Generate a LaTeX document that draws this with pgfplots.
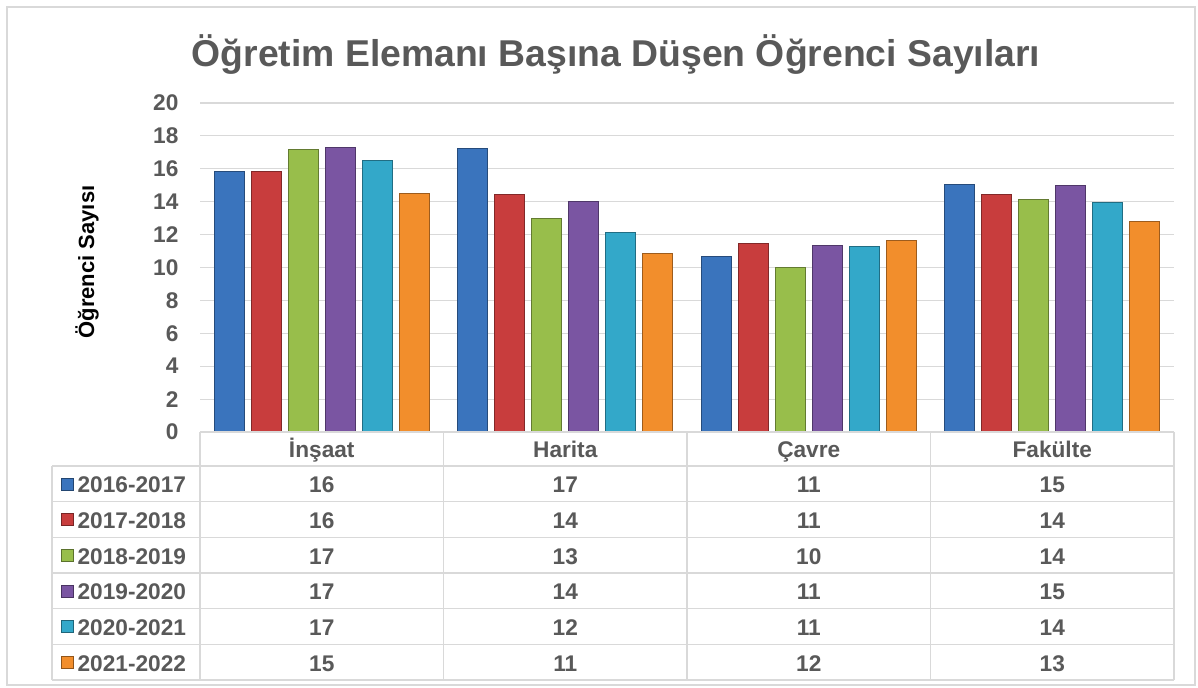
\documentclass[border=0pt]{standalone}
\usepackage{pgfplots}
\pgfplotsset{compat=1.18}
\usepackage{pgfplotstable}
\usepackage{fontspec}
\setmainfont{Liberation Sans}
\definecolor{txt}{HTML}{595959}
\definecolor{gridc}{HTML}{D9D9D9}
\definecolor{c1}{HTML}{3A74BD}
\definecolor{c2}{HTML}{C83D3D}
\definecolor{c3}{HTML}{98BE4B}
\definecolor{c4}{HTML}{7A55A2}
\definecolor{c5}{HTML}{33A8C9}
\definecolor{c6}{HTML}{F28E2C}

% rows: Insaat, Harita, Cavre, Fakulte ; columns: academic years
\pgfplotstableread{
x s1 s2 s3 s4 s5 s6
0 15.82 15.86 17.16 17.32 16.53 14.52
1 17.24 14.46 13.00 14.00 12.15 10.87
2 10.67 11.48  9.98 11.36 11.26 11.66
3 15.07 14.45 14.16 14.97 13.96 12.80
}\datatable

\pgfplotsset{
  barstyle/.style={draw=#1!65!black, fill=#1, line width=0.6pt}
}

\begin{document}
\begin{tikzpicture}
\begin{scope}[x=0.75pt,y=-0.75pt]
  \path (0,0) rectangle (1198,688);
  \draw[gridc, line width=0.9pt] (7,7) rectangle (1195,685);
  \node[txt, font=\bfseries\fontsize{28}{32}\selectfont, anchor=base, inner sep=0pt] at (616,67)
    {Öğretim Elemanı Başına Düşen Öğrenci Sayıları};
  \node[black, font=\bfseries\fontsize{16.5}{19}\selectfont, rotate=90, anchor=base, inner sep=0pt] at (94,262)
    {Öğrenci Sayısı};
\end{scope}

\begin{axis}[
  at={(150pt,-324pt)}, anchor=south west,
  scale only axis,
  width=730.5pt, height=246.75pt,
  ybar=5.25pt, bar width=22.5pt,
  ymin=0, ymax=20, xmin=-0.5, xmax=3.5,
  ytick={0,2,...,20}, xtick=\empty,
  axis line style={draw=none},
  tick style={draw=none},
  ymajorgrids,
  major grid style={draw=gridc, line width=0.9pt},
  yticklabel style={font=\bfseries\fontsize{17}{20}\selectfont, text=txt, inner sep=0pt, xshift=-16pt},
  /pgf/number format/assume math mode=true,
  clip=false
]
\addplot[barstyle=c1] table[x=x,y=s1]{\datatable};
\addplot[barstyle=c2] table[x=x,y=s2]{\datatable};
\addplot[barstyle=c3] table[x=x,y=s3]{\datatable};
\addplot[barstyle=c4] table[x=x,y=s4]{\datatable};
\addplot[barstyle=c5] table[x=x,y=s5]{\datatable};
\addplot[barstyle=c6] table[x=x,y=s6]{\datatable};
\end{axis}

\begin{scope}[x=0.75pt,y=-0.75pt, line width=0.9pt]
  \draw[gridc] (200,432) -- (1174,432);
  \foreach \r in {0,...,6} {
    \draw[gridc] (52,466+35.67*\r) -- (1174,466+35.67*\r);
  }
  \draw[gridc] (52,466) -- (52,680);
  \foreach \xx in {200,443.5,687,930.5,1174} {
    \draw[gridc] (\xx,432) -- (\xx,680);
  }
  \foreach \n [count=\i from 0] in {İnşaat,Harita,Çavre,Fakülte} {
    \node[txt, font=\bfseries\fontsize{17}{20}\selectfont, anchor=base, inner sep=0pt]
      at (321.75+243.5*\i,457) {\n};
  }
  \foreach \s/\lab/\col [count=\r from 0] in
    {s1/2016-2017/c1, s2/2017-2018/c2, s3/2018-2019/c3, s4/2019-2020/c4, s5/2020-2021/c5, s6/2021-2022/c6} {
    \pgfmathsetmacro{\ytop}{466+35.67*\r}
    \filldraw[fill=\col, draw=\col!60!black, line width=0.5pt]
      (61,\ytop+12) rectangle (73,\ytop+24);
    \node[txt, font=\bfseries\fontsize{17}{20}\selectfont, anchor=base west, inner sep=0pt]
      at (77,\ytop+26.7) {\lab};
    \foreach \c in {0,...,3} {
      \pgfplotstablegetelem{\c}{\s}\of\datatable
      \let\val\pgfplotsretval
      \node[txt, font=\bfseries\fontsize{17}{20}\selectfont, anchor=base, inner sep=0pt]
        at (321.75+243.5*\c,\ytop+26.7)
        {\pgfmathprintnumber[fixed,precision=0,assume math mode=true]{\val}};
    }
  }
\end{scope}
\end{tikzpicture}
\end{document}
